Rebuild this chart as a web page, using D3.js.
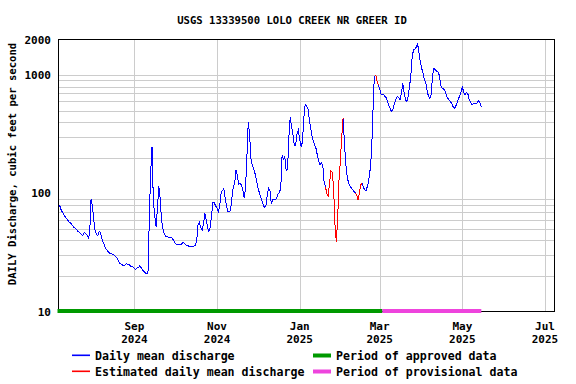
<!DOCTYPE html>
<html>
<head>
<meta charset="utf-8">
<script src="https://cdn.jsdelivr.net/npm/d3@7"></script>
<style>
  body { margin: 0; background: #fff; }
  svg { display: block; }
  text { font-family: "DejaVu Sans Mono", "Liberation Mono", monospace; font-weight: bold; fill: #000; }
</style>
</head>
<body>
<div id="chart"></div>
<script>
// daily mean discharge, cfs, one value per day from startDate
var startDate = "2024-07-07";
var flows = [
  80,78,72,69,66,63,61,59,57,56,54,52,51,50,48,47.5,46,
  44.5,44,47,45.5,44.5,42,45,89,78,60,48,45,44,47.5,46.5,41.7,38.5,
  36,34,33,31.6,31,30.8,30.5,30,29.2,28.5,27,25.7,25.2,24.9,24.4,24.8,25.4,
  25,24.9,24.3,24,23.8,23.2,22.6,23.3,23.6,24.4,23.5,22.5,21.8,21.2,21,20.8,
  60,150,245,85,65,52,75,115,91,60,50,46,43.5,42.8,42.6,42.6,42.6,
  41.5,40,38,36.7,36.7,36.7,36.7,37.5,38.7,37.5,36.5,36,35.8,35.6,35.5,35.5,35.8,
  36.5,40,55,57,51,49,55,68,60,51,47.6,52,67,84,83,78,
  75,70,80,100,106,109,90,78,70,69.5,72,92,113,122,157,140,120,
  121,118,106,92,110,200,400,320,195,173,160,147,130,114,103,95,87,
  80,76,78,95,110,106,82,88,89,88,92,99,102,110,210,195,204,
  155,160,300,440,365,315,255,255,320,342,285,250,270,430,565,545,530,
  430,360,310,275,258,240,210,185,175,180,175,125,113,100,95,121,155,
  150,110,55,39,60,130,190,300,435,270,175,140,122,116,111,108,104,
  101,97,88,100,118,122,112,107,106,115,130,160,220,480,950,1010,900,
  820,760,690,680,680,660,640,590,545,510,490,520,580,630,655,650,615,
  700,850,720,620,600,660,790,1000,1450,1630,1650,1730,1830,1550,1290,1140,1040,
  910,860,740,660,630,690,980,1140,1110,1080,1060,1000,820,780,765,750,690,
  640,620,600,580,545,520,540,580,625,665,720,790,720,680,710,700,620,
  590,565,570,575,575,580,610,580,540
];
// estimated (red) stretches
var estimatedRanges = [["2025-01-20","2025-02-02"],["2025-02-11","2025-02-16"],["2025-02-26","2025-02-28"]];
var approvedPeriod = ["2024-07-07","2025-03-03"];
var provisionalPeriod = ["2025-03-03","2025-05-15"];

var domainDates = ["2024-07-07","2025-07-08"];
var xTickDates = ["2024-09-01","2024-11-01","2025-01-01","2025-03-01","2025-05-01","2025-07-01"];
var xTickMonths = ["Sep","Nov","Jan","Mar","May","Jul"];
var xTickYears = ["2024","2024","2025","2025","2025","2025"];
var yTicks = [10,100,1000,2000];
var yGrid = [20,30,40,50,60,70,80,90,200,300,400,500,600,700,800,900,1000];

var legendLabels = ["Daily mean discharge", "Estimated daily mean discharge", "Period of approved data", "Period of provisional data"];

var W = 576, H = 384;
var plotL = 58.5, plotR = 554.5, plotT = 39.5, plotB = 311.5;
var parse = d3.utcParse("%Y-%m-%d");

var colBlue = "#0000ff", colRed = "#ff0000", colGreen = "#009900", colPink = "#ee44dd", gridCol = "#cccccc";

var series = flows.map(function(v, i) {
  return { date: d3.utcDay.offset(parse(startDate), i), value: v };
});
var estRanges = estimatedRanges.map(function(r) { return [parse(r[0]), parse(r[1])]; });
function isEstimated(d) {
  return estRanges.some(function(r) { return d.date >= r[0] && d.date <= r[1]; });
}
series.forEach(function(d) { d.est = isEstimated(d); });

var x = d3.scaleUtc()
  .domain(domainDates.map(parse))
  .range([plotL, plotR]);
var y = d3.scaleLog()
  .domain([10, 2000])
  .range([plotB, plotT]);

var svg = d3.select("#chart").append("svg")
  .attr("width", W)
  .attr("height", H);

// grid
var grid = svg.append("g").attr("stroke", gridCol).attr("stroke-width", 1).attr("shape-rendering", "crispEdges");
grid.selectAll(".hg").data(yGrid).enter().append("line")
  .attr("x1", plotL).attr("x2", plotR)
  .attr("y1", function(d) { return Math.round(y(d)) + 0.5; })
  .attr("y2", function(d) { return Math.round(y(d)) + 0.5; });
grid.selectAll(".vg").data(xTickDates).enter().append("line")
  .attr("y1", plotT).attr("y2", plotB)
  .attr("x1", function(d) { return Math.round(x(parse(d))) + 0.5; })
  .attr("x2", function(d) { return Math.round(x(parse(d))) + 0.5; });

// discharge lines: blue keeps the joins into estimated runs, red covers the runs
var blueLine = d3.line()
  .defined(function(d, i) {
    return !d.est || (i > 0 && !series[i - 1].est) || (i < series.length - 1 && !series[i + 1].est);
  })
  .x(function(d) { return x(d.date); })
  .y(function(d) { return y(d.value); });
var redLine = d3.line()
  .defined(function(d) { return d.est; })
  .x(function(d) { return x(d.date); })
  .y(function(d) { return y(d.value); });

svg.append("path")
  .datum(series)
  .attr("fill", "none")
  .attr("stroke", colBlue)
  .attr("stroke-width", 1)
  .attr("shape-rendering", "crispEdges")
  .attr("d", blueLine);

svg.append("path")
  .datum(series)
  .attr("fill", "none")
  .attr("stroke", colRed)
  .attr("stroke-width", 1)
  .attr("shape-rendering", "crispEdges")
  .attr("d", redLine);

// frame
svg.append("rect")
  .attr("x", plotL).attr("y", plotT)
  .attr("width", plotR - plotL).attr("height", plotB - plotT)
  .attr("fill", "none").attr("stroke", "#000").attr("stroke-width", 1.5)
  .attr("shape-rendering", "crispEdges");

// approval periods along the bottom
svg.append("rect")
  .attr("x", x(parse(approvedPeriod[0])) - 1).attr("y", plotB - 2.5)
  .attr("width", x(parse(approvedPeriod[1])) - x(parse(approvedPeriod[0])) + 1)
  .attr("height", 4).attr("fill", colGreen);
svg.append("rect")
  .attr("x", x(parse(provisionalPeriod[0]))).attr("y", plotB - 2.5)
  .attr("width", x(parse(provisionalPeriod[1])) - x(parse(provisionalPeriod[0])))
  .attr("height", 4).attr("fill", colPink);

// y tick labels
svg.selectAll(".ylab").data(yTicks).enter().append("text")
  .attr("x", 51)
  .attr("y", function(d) { return y(d) + 4; })
  .attr("text-anchor", "end")
  .style("font-size", "11px")
  .text(function(d) { return d; });

// x tick labels
xTickDates.forEach(function(d, i) {
  var xx = x(parse(d));
  svg.append("text").attr("x", xx).attr("y", 330).attr("text-anchor", "middle")
    .style("font-size", "11px").text(xTickMonths[i]);
  svg.append("text").attr("x", xx).attr("y", 343).attr("text-anchor", "middle")
    .style("font-size", "11px").text(xTickYears[i]);
});

// title and axis title
svg.append("text")
  .attr("x", 292).attr("y", 24)
  .attr("text-anchor", "middle")
  .style("font-size", "10.6px")
  .text("USGS 13339500 LOLO CREEK NR GREER ID");

svg.append("text")
  .attr("transform", "translate(16," + 164 + ") rotate(-90)")
  .attr("text-anchor", "middle")
  .style("font-size", "10.6px")
  .text("DAILY Discharge, cubic feet per second");

// legend, swatches drawn as filled rects
var swatch = [
  { x: 72, y: 354.5, h: 1.6, fill: colBlue },
  { x: 72, y: 370.5, h: 1.6, fill: colRed },
  { x: 313, y: 353.5, h: 4, fill: colGreen },
  { x: 313, y: 369.5, h: 4, fill: colPink }
];
swatch.forEach(function(s, i) {
  svg.append("rect")
    .attr("x", s.x).attr("y", s.y)
    .attr("width", 18).attr("height", s.h)
    .style("fill", s.fill);
  svg.append("text")
    .attr("x", s.x + 23)
    .attr("y", (i % 2 === 0 ? 356 : 372) + 4)
    .style("font-size", "11.6px")
    .text(legendLabels[i]);
});
</script>
</body>
</html>
